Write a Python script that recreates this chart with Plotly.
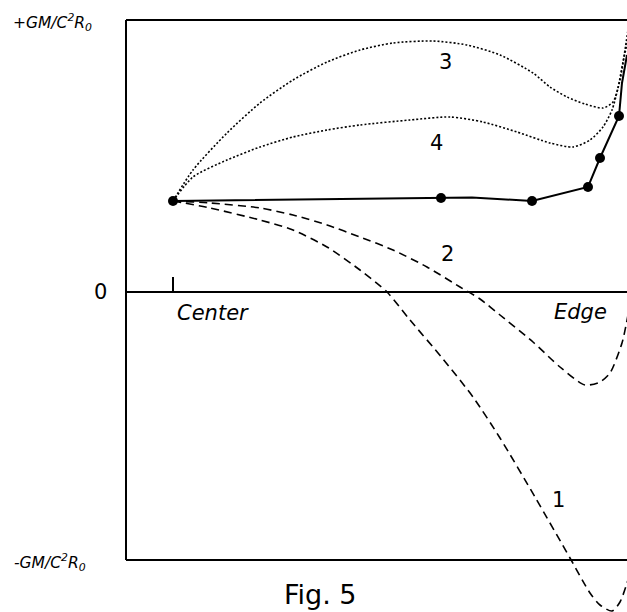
import plotly.graph_objects as go

# Units: x = position from centre, y = potential (frame levels at +/-GM/c^2R0)
Y_TOP = 272
Y_BOT = -268
Y_ZERO = 0
X_LEFT = -47
X_RIGHT = 460

# solid curve (with measured points)
solid_x = [0, 268, 299, 359, 415, 427, 446, 449, 454]
solid_y = [91, 94, 94.5, 91, 105, 134, 176, 209, 237]
pts_x = [0, 268, 359, 415, 427, 446]
pts_y = [91, 94, 91, 105, 134, 176]

# curve 3 (dotted)
c3_x = [0, 20, 54, 87, 120, 154, 187, 220, 260, 294, 327, 360, 377, 394, 412, 430, 440, 447, 452, 455]
c3_y = [91, 122, 159, 189, 212, 230, 242, 249, 251, 247, 237, 219, 205, 195, 188, 184, 190, 212, 242, 262]

# curve 4 (dotted)
c4_x = [0, 20, 54, 87, 120, 154, 187, 237, 277, 310, 344, 377, 400, 417, 430, 439, 445, 450, 455]
c4_y = [91, 115, 132, 145, 155, 162, 167, 172, 175, 170, 160, 149, 145, 152, 165, 182, 204, 230, 252]

# curve 2 (dashed)
c2_x = [0, 37, 87, 120, 154, 187, 220, 254, 287, 307, 327, 360, 387, 412, 427, 437, 449, 455]
c2_y = [91, 89, 84, 77, 67, 55, 42, 25, 5, -7, -23, -50, -75, -93, -90, -81, -51, -23]

# curve 1 (dashed)
c1_x = [0, 37, 87, 120, 154, 187, 214, 237, 270, 300, 327, 362, 397, 417, 427, 439, 447, 455]
c1_y = [91, 84, 72, 62, 45, 22, 0, -28, -67, -105, -146, -205, -266, -301, -313, -319, -310, -288]

curve_labels = ["1", "2", "3", "4"]
label_x = [385, 274, 272, 263]
label_y = [-208, 38, 230, 149]

FONT = "DejaVu Sans"

fig = go.Figure()
for cx, cy in [(c3_x, c3_y), (c4_x, c4_y)]:
    fig.add_trace(go.Scatter(x=cx, y=cy, mode="lines",
                             line=dict(color="black", width=1.6, dash="2px,2px",
                                       shape="spline", smoothing=0.7)))
for cx, cy in [(c2_x, c2_y), (c1_x, c1_y)]:
    fig.add_trace(go.Scatter(x=cx, y=cy, mode="lines",
                             line=dict(color="black", width=1.6, dash="8px,5px",
                                       shape="spline", smoothing=0.7)))
fig.add_trace(go.Scatter(x=solid_x, y=solid_y, mode="lines",
                         line=dict(color="black", width=2)))
fig.add_trace(go.Scatter(x=pts_x, y=pts_y, mode="markers",
                         marker=dict(color="black", size=10)))

shapes = [
    dict(type="line", x0=X_LEFT, x1=X_RIGHT, y0=Y_TOP, y1=Y_TOP),
    dict(type="line", x0=X_LEFT, x1=X_RIGHT, y0=Y_BOT, y1=Y_BOT),
    dict(type="line", x0=X_LEFT, x1=X_RIGHT, y0=Y_ZERO, y1=Y_ZERO),
    dict(type="line", x0=X_LEFT, x1=X_LEFT, y0=Y_BOT, y1=Y_TOP),
    dict(type="line", x0=0, x1=0, y0=0, y1=15),
]
for s in shapes:
    s.update(xref="x", yref="y", line=dict(color="black", width=2), layer="above")
fig.update_layout(shapes=shapes)

ann = []
for t, x, y in zip(curve_labels, label_x, label_y):
    ann.append(dict(x=x, y=y, text=t, showarrow=False, xref="x", yref="y",
                    font=dict(family=FONT, size=21, color="black")))
ann += [
    dict(x=40, y=-21, text="<i>Center</i>", showarrow=False, xref="x", yref="y",
         font=dict(family=FONT, size=21, color="black")),
    dict(x=407, y=-20, text="<i>Edge</i>", showarrow=False, xref="x", yref="y",
         font=dict(family=FONT, size=21, color="black")),
    dict(x=-73, y=0, text="0", showarrow=False, xref="x", yref="y",
         font=dict(family=FONT, size=21, color="black")),
    dict(x=-121, y=Y_TOP - 2, text="<i>+GM/C<sup>2</sup>R<sub>0</sub></i>", showarrow=False,
         xref="x", yref="y", font=dict(family=FONT, size=15.5, color="black")),
    dict(x=-123, y=Y_BOT - 2, text="<i>-GM/C<sup>2</sup>R<sub>0</sub></i>", showarrow=False,
         xref="x", yref="y", font=dict(family=FONT, size=15.5, color="black")),
    dict(x=147, y=-302, text="Fig. 5", showarrow=False, xref="x", yref="y",
         font=dict(family=FONT, size=27, color="black")),
]

fig.update_layout(
    annotations=ann,
    width=627, height=612,
    margin=dict(l=0, r=0, t=0, b=0),
    paper_bgcolor="white", plot_bgcolor="white",
    showlegend=False,
    xaxis=dict(range=[-173, 454], visible=False, fixedrange=True),
    yaxis=dict(range=[-320, 292], visible=False, fixedrange=True),
)

fig.write_html("out.html", config={"displayModeBar": False},
               post_script="document.body.style.margin='0px';document.body.style.overflow='hidden';")
